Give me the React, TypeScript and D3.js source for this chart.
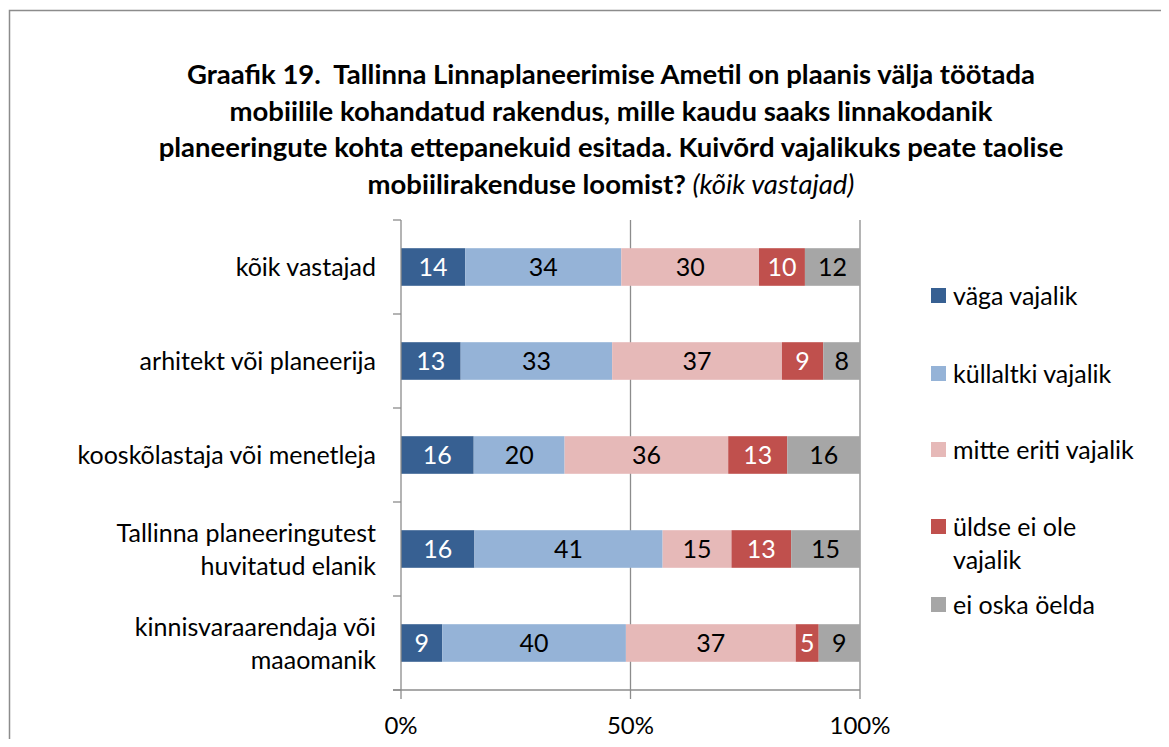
import * as d3 from 'd3'

const W = 1169, H = 747
const M = { top: 220, left: 401, right: 860, bottom: 690 }
const FONT = 'Lato, "Open Sans", sans-serif'

const CATEGORIES = [
  ['kõik vastajad'],
  ['arhitekt või planeerija'],
  ['kooskõlastaja või menetleja'],
  ['Tallinna planeeringutest', 'huvitatud elanik'],
  ['kinnisvaraarendaja või', 'maaomanik'],
]
const SERIES = ['väga vajalik', 'küllaltki vajalik', 'mitte eriti vajalik', 'üldse ei ole vajalik', 'ei oska öelda']
const COLORS = ['#376092', '#95B3D7', '#E6B9B8', '#C0504D', '#A6A6A6']
const LABEL_COLORS = ['#fff', '#000', '#000', '#fff', '#000']

const VAGA = [14, 13, 16, 16, 9]
const KULLALTKI = [34, 33, 20, 41, 40]
const MITTE = [30, 37, 36, 15, 37]
const ULDSE = [10, 9, 13, 13, 5]
const EI_OSKA = [12, 8, 16, 15, 9]

const TICKS = [0, 0.5, 1]
const TITLE = [
  'Graafik 19.\u00a0 Tallinna Linnaplaneerimise Ametil on plaanis välja töötada',
  'mobiilile kohandatud rakendus, mille kaudu saaks linnakodanik',
  'planeeringute kohta ettepanekuid esitada. Kuivõrd vajalikuks peate taolise',
]
const TITLE_LAST = 'mobiilirakenduse loomist?'
const TITLE_ITALIC = ' (kõik vastajad)'

const LEGEND_LINES = [['väga vajalik'], ['küllaltki vajalik'], ['mitte eriti vajalik'], ['üldse ei ole', 'vajalik'], ['ei oska öelda']]
const LEGEND_Y = [296, 374, 450, 527, 605]

export default function App() {
  const rows = CATEGORIES.map((c, i) => [VAGA[i], KULLALTKI[i], MITTE[i], ULDSE[i], EI_OSKA[i]])
  const x = d3.scaleLinear().domain([0, 1]).range([M.left, M.right])
  const y = d3.scaleBand<number>().domain(d3.range(CATEGORIES.length)).range([M.top, M.bottom]).paddingInner(0.6).paddingOuter(0.3)
  const step = y.step()

  return (
    <div style={{ margin: -8 }}>
      <svg width={W} height={H} style={{ display: 'block', fontFamily: FONT }}>
        <rect x={9.5} y={10.5} width={W + 20} height={H + 20} fill="#fff" stroke="#8c8c8c" strokeWidth={1.5} />

        {/* title */}
        <g fontSize={27.5} fontWeight="bold" textAnchor="middle" fill="#000">
          {TITLE.map((t, i) => (
            <text key={i} x={611} y={84 + i * 36.7}>{t}</text>
          ))}
          <text x={611} y={84 + 3 * 36.7}>
            {TITLE_LAST}
            <tspan fontWeight="normal" fontStyle="italic">{TITLE_ITALIC}</tspan>
          </text>
        </g>

        {/* gridlines */}
        {TICKS.slice(1).map(t => (
          <line key={t} x1={x(t)} x2={x(t)} y1={M.top} y2={M.bottom} stroke="#8c8c8c" strokeWidth={1.3} />
        ))}

        {/* bars */}
        {rows.map((vals, i) => {
          const total = d3.sum(vals)
          let acc = 0
          return (
            <g key={i}>
              {vals.map((v, j) => {
                const x0 = x(acc / total)
                acc += v
                const x1 = x(acc / total)
                return (
                  <g key={j}>
                    <rect x={x0} y={y(i)!} width={x1 - x0} height={y.bandwidth()} fill={COLORS[j]} />
                    <text x={(x0 + x1) / 2} y={y(i)! + y.bandwidth() / 2} dy="0.36em" textAnchor="middle"
                      fontSize={25} fill={LABEL_COLORS[j]}>{v}</text>
                  </g>
                )
              })}
            </g>
          )
        })}

        {/* axes */}
        <line x1={M.left} x2={M.left} y1={M.top} y2={M.bottom} stroke="#8c8c8c" strokeWidth={1.3} />
        {d3.range(CATEGORIES.length + 1).map(k => (
          <line key={k} x1={M.left - 8} x2={M.left} y1={M.top + k * step} y2={M.top + k * step} stroke="#8c8c8c" strokeWidth={1.3} />
        ))}
        <line x1={M.left - 8} x2={M.right} y1={M.bottom} y2={M.bottom} stroke="#8c8c8c" strokeWidth={1.3} />
        {TICKS.map(t => (
          <g key={t}>
            <line x1={x(t)} x2={x(t)} y1={M.bottom} y2={M.bottom + 9} stroke="#8c8c8c" strokeWidth={1.3} />
            <text x={x(t)} y={M.bottom + 35} dy="0.36em" textAnchor="middle" fontSize={24} fill="#000">{d3.format('.0%')(t)}</text>
          </g>
        ))}

        {/* category labels */}
        {CATEGORIES.map((lines, i) => (
          <g key={i}>
            {lines.map((l, k) => (
              <text key={k} x={376} y={y(i)! + y.bandwidth() / 2 + (k - (lines.length - 1) / 2) * 33} dy="0.36em"
                textAnchor="end" fontSize={25} fill="#000">{l}</text>
            ))}
          </g>
        ))}

        {/* legend */}
        {SERIES.map((s, j) => (
          <g key={s}>
            <rect x={931} y={LEGEND_Y[j] - 8} width={15} height={15} fill={COLORS[j]} />
            {LEGEND_LINES[j].map((l, k) => (
              <text key={k} x={953} y={LEGEND_Y[j] + k * 33} dy="0.36em" fontSize={25} fill="#000">{l}</text>
            ))}
          </g>
        ))}
      </svg>
    </div>
  )
}
